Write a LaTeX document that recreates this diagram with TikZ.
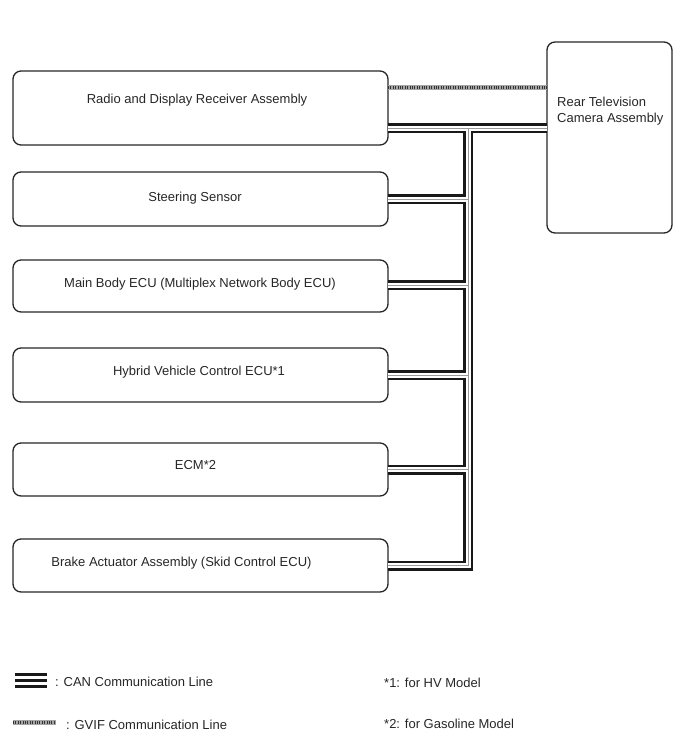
\documentclass[tikz,border=0pt]{standalone}
\usepackage{fontspec}
\setmainfont{Liberation Sans}
\begin{document}
\begin{tikzpicture}[x=1pt,y=-1pt,
  box/.style={draw=black!85,line width=1.3pt,rounded corners=8pt,inner sep=0pt,outer sep=0pt},
  lbl/.style={inner sep=0pt,text=black!85,font=\fontsize{13}{15}\selectfont},
  canblack/.style={line width=10pt,black!90,line join=miter},
  canwhite/.style={line width=5pt,white,line join=miter},
  cangray/.style={line width=1pt,black!40,line join=miter}]
\useasboundingbox (0,0) rectangle (688,755);
% boxes
\node[box,minimum width=375pt,minimum height=74pt] (radio) at (200.5,108) {};
\node[box,minimum width=375pt,minimum height=54pt] (steer) at (200.5,199) {};
\node[box,minimum width=375pt,minimum height=52pt] (body) at (200.5,286) {};
\node[box,minimum width=375pt,minimum height=54pt] (hv) at (200.5,375) {};
\node[box,minimum width=375pt,minimum height=53pt] (ecm) at (200.5,469.5) {};
\node[box,minimum width=375pt,minimum height=53pt] (brake) at (200.5,565.5) {};
\node[box,minimum width=125pt,minimum height=191pt] (cam) at (609.5,137.5) {};
% coordinates of the bus
\coordinate (top) at (468,128);
\coordinate (r1) at (388,128);
\coordinate (c1) at (547,128);
\coordinate (g1) at (388,87.5);
\coordinate (g2) at (547,87.5);
% CAN bus (drawn in three passes)
\foreach \st in {canblack,canwhite,cangray}{
  \draw[\st] (r1) -- (c1);
  \draw[\st] (top) -- (top |- brake.east) -- (brake.east);
  \draw[\st] (steer.east) -- (steer.east -| top);
  \draw[\st] (body.east |- 0,285) -- (top |- 0,285);
  \draw[\st] (hv.east) -- (hv.east -| top);
  \draw[\st] (ecm.east) -- (ecm.east -| top);
}
% GVIF line
\draw[line width=5pt,black!35] (g1) -- (g2);
\draw[line width=3.4pt,black!80,dash pattern=on 1pt off 1.4pt] (g1) -- (g2);
% labels
\node[lbl,anchor=base] (tradio) at (197,103.6) {Radio and Display Receiver Assembly};
\node[lbl,anchor=base] (tsteer) at (195,201.6) {Steering Sensor};
\node[lbl,anchor=base] (tbody) at (200,287.6) {Main Body ECU (Multiplex Network Body ECU)};
\node[lbl,anchor=base] (thv) at (199,375.6) {Hybrid Vehicle Control ECU*1};
\node[lbl,anchor=base] (tecm) at (195.5,469.6) {ECM*2};
\node[lbl,anchor=base] (tbrake) at (181.5,566.6) {Brake Actuator Assembly (Skid Control ECU)};
\node[lbl,anchor=base west] (tcam1) at (557,106.6) {Rear Television};
\node[lbl,anchor=base west] (tcam2) at (557,122.6) {Camera Assembly};
% legend
\fill[black!90] (15,673) rectangle (47,676);
\fill[black!90] (15,679) rectangle (47,682);
\fill[black!90] (15,685) rectangle (47,688);
\coordinate (gl1) at (13,722.5);
\coordinate (gl2) at (56,722.5);
\draw[line width=5pt,black!35] (gl1) -- (gl2);
\draw[line width=3.4pt,black!80,dash pattern=on 1pt off 1.4pt] (gl1) -- (gl2);
\node[lbl,anchor=base west] (lcan) at (55,686) {: CAN Communication Line};
\node[lbl,anchor=base west] (lgvif) at (66,729) {: GVIF Communication Line};
\node[lbl,anchor=base west] (n1) at (384,687) {*1: for HV Model};
\node[lbl,anchor=base west] (n2) at (384,728) {*2: for Gasoline Model};
\end{tikzpicture}
\end{document}
